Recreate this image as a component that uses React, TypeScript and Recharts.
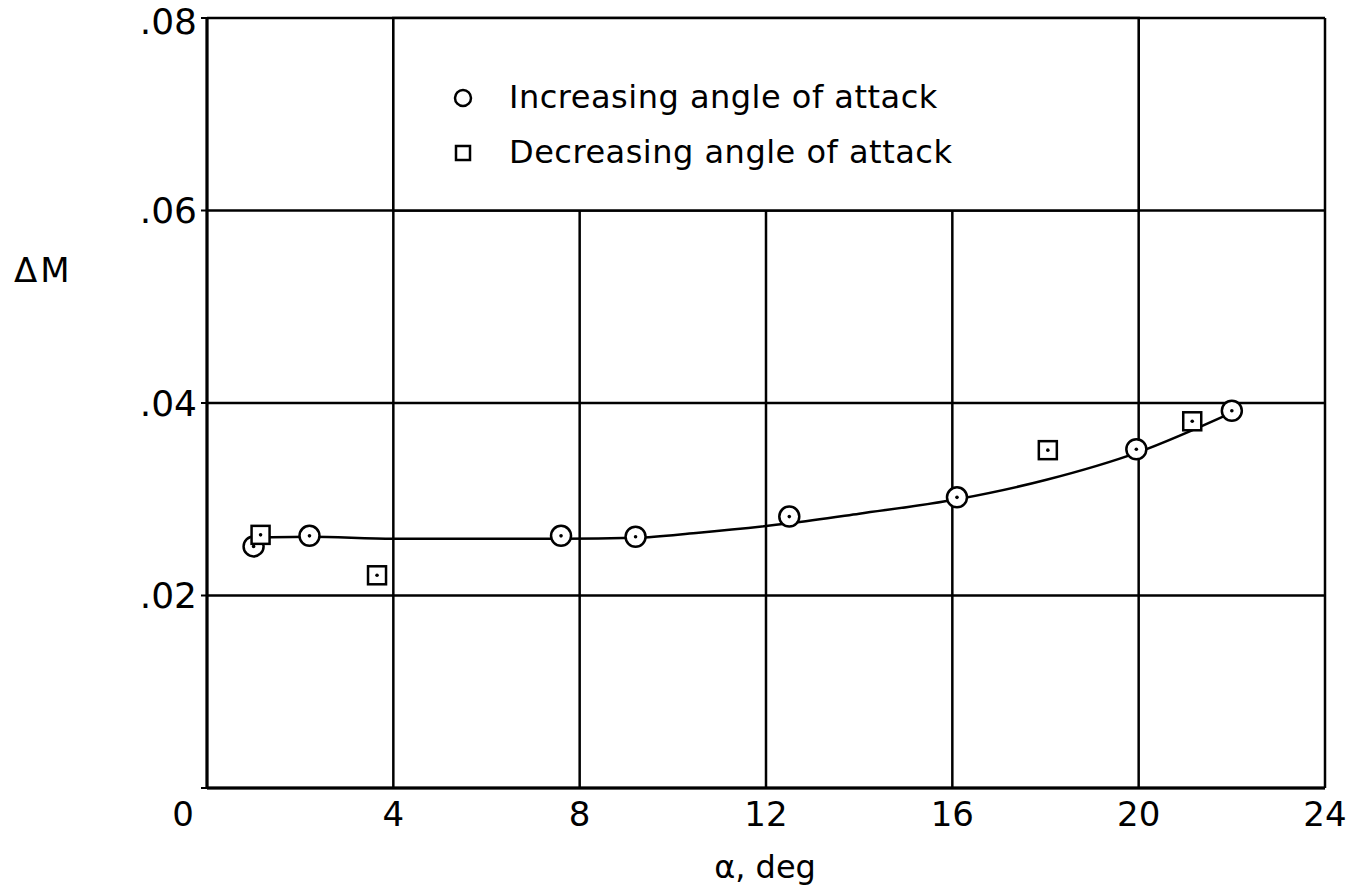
import React from "react";
import {
  CartesianGrid,
  ComposedChart,
  Line,
  ReferenceArea,
  Scatter,
  XAxis,
  YAxis,
} from "recharts";

// Values.
const xTicks = [0, 4, 8, 12, 16, 20, 24];
const yTicks = [0, 0.02, 0.04, 0.06, 0.08];
const yTickLabels = ["", ".02", ".04", ".06", ".08"];

const incAlpha = [1.0, 2.2, 7.6, 9.2, 12.5, 16.1, 19.95, 22.0];
const incDM = [0.0251, 0.0262, 0.0262, 0.0261, 0.0282, 0.0302, 0.0352, 0.0392];

const decAlpha = [1.15, 3.65, 18.05, 21.15];
const decDM = [0.0263, 0.0221, 0.0351, 0.0381];

// faired curve drawn through the data
const fairAlpha = [1.0, 2.2, 4, 6, 7.6, 9.2, 10.5, 12.5, 14, 16.1, 18, 20, 22];
const fairDM = [0.026, 0.0261, 0.0259, 0.0259, 0.0259, 0.026, 0.0265, 0.0275, 0.0285, 0.03, 0.032, 0.0349, 0.039];

const legendLabels = ["Increasing angle of attack", "Decreasing angle of attack"];

const FONT = "'DejaVu Sans', sans-serif";

const zip = (xs: number[], ys: number[]) => xs.map((x, i) => ({ x, y: ys[i] }));

const CircleMark = (p: any) => (
  <g>
    <circle cx={p.cx} cy={p.cy} r={10} fill="#fff" stroke="#000" strokeWidth={2.5} />
    <circle cx={p.cx} cy={p.cy} r={1.8} fill="#000" />
  </g>
);

const SquareMark = (p: any) => (
  <g>
    <rect x={p.cx - 9} y={p.cy - 9} width={18} height={18} fill="#fff" stroke="#000" strokeWidth={2.5} />
    <circle cx={p.cx} cy={p.cy} r={1.8} fill="#000" />
  </g>
);

const XTick = (p: any) => {
  const v = p.payload.value;
  const dx = v === 0 ? -24 : 0;
  return (
    <text x={p.x + dx} y={p.y + 30} textAnchor="middle" fontSize={34} fontFamily={FONT} fill="#000">
      {String(v)}
    </text>
  );
};

export default function App() {
  return (
    <div style={{ position: "absolute", left: 0, top: 0, width: 1352, height: 893, background: "#fff" }}>
      <ComposedChart
        width={1352}
        height={893}
        margin={{ top: 18, right: 27, bottom: 75, left: 0 }}
      >
        <CartesianGrid stroke="#000" strokeWidth={2.5} />
        <XAxis
          type="number"
          dataKey="x"
          domain={[0, 24]}
          ticks={xTicks}
          height={30}
          tick={<XTick />}
          tickLine={false}
          axisLine={{ stroke: "#000", strokeWidth: 3 }}
          allowDataOverflow
        />
        <YAxis
          type="number"
          dataKey="y"
          domain={[0, 0.08]}
          ticks={yTicks}
          width={207}
          tickSize={6}
          tickMargin={4}
          tickLine={{ stroke: "#000", strokeWidth: 2 }}
          axisLine={{ stroke: "#000", strokeWidth: 3 }}
          tickFormatter={(v: number) => yTickLabels[yTicks.indexOf(v)] ?? ""}
          tick={{ fontSize: 36, fontFamily: FONT, fill: "#000" }}
          allowDataOverflow
        />
        <ReferenceArea
          x1={4}
          x2={20}
          y1={0.06}
          y2={0.08}
          fill="#fff"
          fillOpacity={1}
          stroke="#000"
          strokeWidth={2.5}
        />
        <Line
          data={zip(fairAlpha, fairDM)}
          dataKey="y"
          type="monotone"
          stroke="#000"
          strokeWidth={2.5}
          dot={false}
          activeDot={false}
          legendType="none"
          isAnimationActive={false}
        />
        <Scatter
          name={legendLabels[0]}
          data={zip(incAlpha, incDM)}
          shape={<CircleMark />}
          isAnimationActive={false}
        />
        <Scatter
          name={legendLabels[1]}
          data={zip(decAlpha, decDM)}
          shape={<SquareMark />}
          isAnimationActive={false}
        />
      </ComposedChart>
      <div
        style={{
          position: "absolute",
          left: 451,
          top: 70,
          fontFamily: FONT,
          fontSize: 32,
          letterSpacing: 0.5,
          color: "#000",
          lineHeight: "55px",
        }}
      >
        <div style={{ display: "flex", alignItems: "center" }}>
          <svg width={24} height={24} style={{ marginRight: 34 }}>
            <circle cx={12} cy={12} r={8} fill="none" stroke="#000" strokeWidth={2.5} />
          </svg>
          {legendLabels[0]}
        </div>
        <div style={{ display: "flex", alignItems: "center" }}>
          <svg width={24} height={24} style={{ marginRight: 34 }}>
            <rect x={5} y={5} width={14} height={14} fill="none" stroke="#000" strokeWidth={2.5} />
          </svg>
          {legendLabels[1]}
        </div>
      </div>
      <div style={{ position: "absolute", left: 14, top: 250, fontFamily: FONT, fontSize: 34, letterSpacing: 3, color: "#000" }}>
        ΔM
      </div>
      <div
        style={{
          position: "absolute",
          left: 665,
          top: 848,
          width: 200,
          textAlign: "center",
          fontFamily: FONT,
          fontSize: 32,
          color: "#000",
        }}
      >
        α, deg
      </div>
    </div>
  );
}
